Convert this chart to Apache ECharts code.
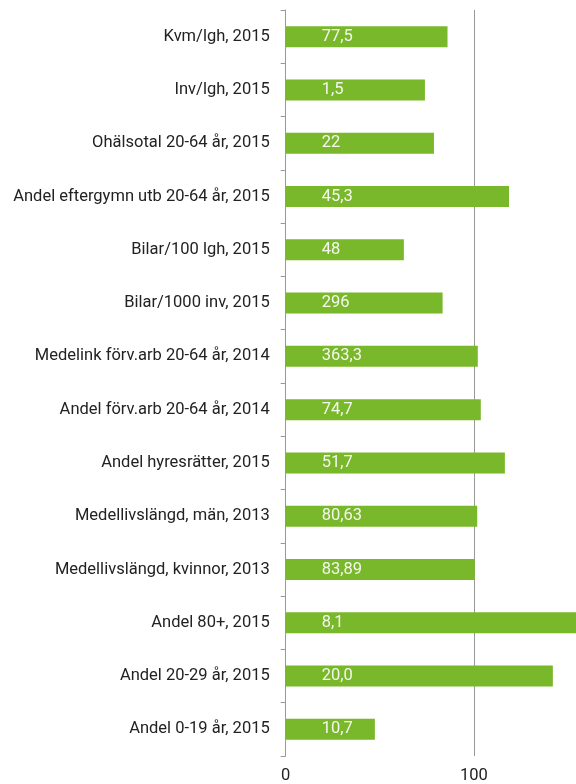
<!DOCTYPE html>
<html>
<head>
<meta charset="utf-8">
<script src="https://cdn.jsdelivr.net/npm/echarts@6/dist/echarts.min.js"></script>
<style>html,body{margin:0;padding:0;background:#fff;}#c{width:576px;height:784px;}</style>
</head>
<body>
<div id="c"></div>
<script>
const categories = ['Kvm/lgh, 2015','Inv/lgh, 2015','Ohälsotal 20-64 år, 2015','Andel eftergymn utb 20-64 år, 2015','Bilar/100 lgh, 2015','Bilar/1000 inv, 2015','Medelink förv.arb 20-64 år, 2014','Andel förv.arb 20-64 år, 2014','Andel hyresrätter, 2015','Medellivslängd, män, 2013','Medellivslängd, kvinnor, 2013','Andel 80+, 2015','Andel 20-29 år, 2015','Andel 0-19 år, 2015'];
const indexValues = [86.0, 74.0, 78.8, 118.7, 62.8, 83.4, 102.1, 103.7, 116.5, 101.8, 100.5, 165, 142.0, 47.4];
const valueLabels = ['77,5','1,5','22','45,3','48','296','363,3','74,7','51,7','80,63','83,89','8,1','20,0','10,7'];
const xTicks = [0, 100];

const chart = echarts.init(document.getElementById('c'), null, {renderer: 'canvas'});
chart.setOption({
  animation: false,
  grid: {left: 285.7, top: 10, bottom: 28, right: 0, containLabel: false},
  xAxis: {
    type: 'value', min: 0, max: 154.3, interval: 100,
    axisLine: {show: false}, axisTick: {show: false},
    axisLabel: {color: '#222', fontFamily: 'Roboto', fontSize: 16.5, margin: 11, showMaxLabel: false,
      formatter: v => xTicks.includes(v) ? String(v) : ''},
    splitLine: {show: true, lineStyle: {color: '#999', width: 1}}
  },
  yAxis: {
    type: 'category', data: categories, inverse: true,
    axisLine: {show: true, lineStyle: {color: '#999', width: 1}},
    axisTick: {show: true, length: 5, lineStyle: {color: '#999'}},
    axisLabel: {color: '#222', fontFamily: 'Roboto', fontSize: 16.5, margin: 16}
  },
  series: [{
    type: 'bar',
    data: indexValues,
    barWidth: 21,
    itemStyle: {color: '#78b82a'},
    label: {
      show: true, position: [36, '50%'], verticalAlign: 'middle', align: 'left',
      color: '#f5f7ee', fontFamily: 'Roboto', fontSize: 16.5,
      formatter: p => valueLabels[p.dataIndex]
    }
  }]
});
</script>
</body>
</html>
